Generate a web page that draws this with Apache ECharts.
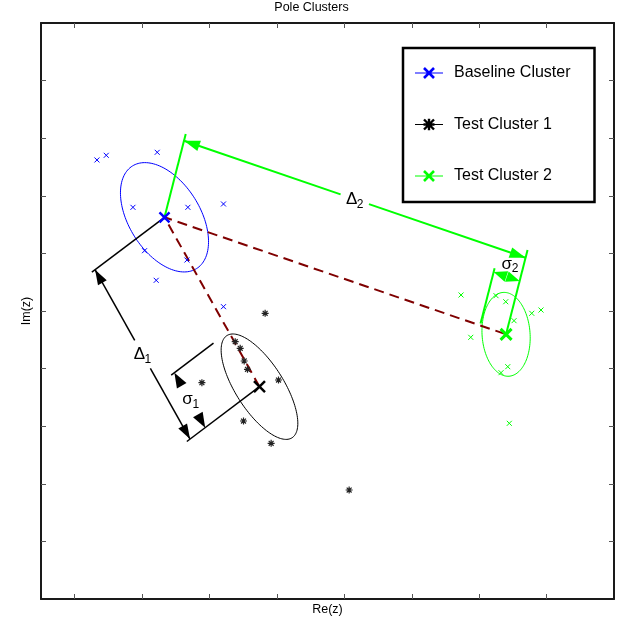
<!DOCTYPE html>
<html><head><meta charset="utf-8">
<script src="https://cdn.jsdelivr.net/npm/echarts@6/dist/echarts.min.js"></script>
<style>html,body{margin:0;padding:0;background:#fff}#c{width:623px;height:630px}</style>
</head><body><div id="c"></div>
<script>
// ---------------- data ----------------
const xTicks = [0, 1, 2, 3, 4, 5, 6, 7];
const yTicks = [1, 2, 3, 4, 5, 6, 7, 8, 9];
const clusterNames = ['Baseline Cluster', 'Test Cluster 1', 'Test Cluster 2'];
const baselinePoints = [[0.330,7.622],[0.468,7.703],[1.224,7.755],[0.864,6.800],[1.679,6.800],[2.207,6.858],[1.036,6.047],[1.665,5.885],[1.209,5.533],[2.207,5.075]];
const test1Points = [[2.825,4.960],[2.381,4.467],[2.455,4.352],[2.514,4.132],[2.563,3.988],[3.023,3.802],[1.887,3.755],[2.504,3.090],[2.914,2.703],[4.071,1.892]];
const test2Points = [[5.731,5.278],[6.250,5.266],[6.394,5.161],[6.780,4.960],[6.917,5.017],[6.517,4.832],[5.875,4.543],[6.324,3.929],[6.424,4.033],[6.447,3.050]];
const baselineCenter = [1.332, 6.627];
const test1Center = [2.741, 3.686];
const test2Center = [6.399, 4.595];

// ---------------- styling / geometry config ----------------
const FONT = 'Liberation Sans, Arial, Helvetica, sans-serif';
const BLUE = '#0000ff', GREEN = '#00ff00', BLACK = '#000000', DARKRED = '#7f0000';
const ASPECT = 1.16;
const ellipseCfg = [
  {a: 60.5, b: 35.6, theta: 58, color: BLUE},
  {a: 60.6, b: 24, theta: 57.5, color: BLACK},
  {a: 42, b: 24, theta: 86, color: GREEN}
];

function unit(v){const l=Math.hypot(v[0],v[1]);return [v[0]/l,v[1]/l];}
function makeFrame(p1,p2,side){
  const d=[p2[0]-p1[0],p2[1]-p1[1]];
  const e=unit(d);
  const ep=unit([d[0],d[1]/ASPECT]);
  const n=unit(side>0?[-ep[1],ep[0]*ASPECT]:[ep[1],-ep[0]*ASPECT]);
  return {e:e,n:n,len:Math.hypot(d[0],d[1])};
}
function at(base,f,s,t){return [base[0]+s*f.e[0]+t*f.n[0], base[1]+s*f.e[1]+t*f.n[1]];}
function seg(a,b,color,w){return {type:'line',shape:{x1:a[0],y1:a[1],x2:b[0],y2:b[1]},style:{stroke:color,lineWidth:w}};}
function head(tip,dir,len,hw,color){
  const b=[tip[0]-dir[0]*len,tip[1]-dir[1]*len]; const p=[-dir[1],dir[0]];
  return {type:'polygon',shape:{points:[tip,[b[0]+p[0]*hw,b[1]+p[1]*hw],[b[0]-p[0]*hw,b[1]-p[1]*hw]]},style:{fill:color}};
}
function subLabel(c,main,sub,size){
  return {type:'group',children:[
    {type:'text',x:c[0]-3,y:c[1],style:{text:main,font:size+'px '+FONT,fill:'#000',align:'center',verticalAlign:'middle'}},
    {type:'text',x:c[0]+2,y:c[1]+5,style:{text:sub,font:Math.round(size*0.72)+'px '+FONT,fill:'#000',align:'left',verticalAlign:'middle'}}
  ]};
}
// dimension annotations
const dimCfg = {
  delta1: {side:1, color:BLACK, lw:1.5, extA:[0,91], extB:[0,91], line:87, gap:16, head:[15,5], label:['Δ','1']},
  delta2: {side:-1, color:GREEN, lw:2, extA:[0,86], extB:[0,87], line:79, gap:15, head:[16,5.5], label:['Δ','2']},
  sigma1: {side:1, color:BLACK, lw:1.5, sigma:63, extA:[19,72], line:68, head:[15,5.5], labelT:67, label:['σ','1']},
  sigma2: {side:-1, color:GREEN, lw:2, sigma:27.5, extA:[2,59], line:55, head:[13.5,5.5], labelT:68, label:['σ','2']}
};
function renderDelta(cfg){
  return function(params,api){
    const p1=api.coord([api.value(0),api.value(1)]), p2=api.coord([api.value(2),api.value(3)]);
    const f=makeFrame(p1,p2,cfg.side), L=f.len, c=cfg.color;
    const a=at(p1,f,0,cfg.line), b=at(p2,f,0,cfg.line);
    return {type:'group',children:[
      seg(at(p1,f,0,cfg.extA[0]),at(p1,f,0,cfg.extA[1]),c,cfg.lw),
      seg(at(p2,f,0,cfg.extB[0]),at(p2,f,0,cfg.extB[1]),c,cfg.lw),
      seg(a,at(p1,f,L/2-cfg.gap,cfg.line),c,cfg.lw),
      seg(at(p1,f,L/2+cfg.gap,cfg.line),b,c,cfg.lw),
      head(a,[-f.e[0],-f.e[1]],cfg.head[0],cfg.head[1],c),
      head(b,f.e,cfg.head[0],cfg.head[1],c),
      subLabel(at(p1,f,L/2,cfg.line),cfg.label[0],cfg.label[1],17)
    ]};
  };
}
function renderSigma(cfg){
  return function(params,api){
    const p1=api.coord([api.value(0),api.value(1)]), p2=api.coord([api.value(2),api.value(3)]);
    const f=makeFrame(p1,p2,cfg.side), c=cfg.color, s=cfg.sigma;
    const a=at(p2,f,-s,cfg.line), b=at(p2,f,0,cfg.line);
    return {type:'group',children:[
      seg(at(p2,f,-s,cfg.extA[0]),at(p2,f,-s,cfg.extA[1]),c,cfg.lw),
      head(a,[-f.e[0],-f.e[1]],cfg.head[0],cfg.head[1],c),
      head(b,f.e,cfg.head[0],cfg.head[1],c),
      subLabel(at(p2,f,-s/2,cfg.labelT),cfg.label[0],cfg.label[1],17)
    ]};
  };
}
function renderEllipse(cfg){
  return function(params,api){
    const c=api.coord([api.value(0),api.value(1)]);
    const th=cfg.theta*Math.PI/180, pts=[];
    for(let i=0;i<=144;i++){
      const t=i/144*2*Math.PI, x=cfg.a*Math.cos(t), y=cfg.b*Math.sin(t);
      pts.push([c[0]+x*Math.cos(th)-y*Math.sin(th), c[1]+x*Math.sin(th)+y*Math.cos(th)]);
    }
    return {type:'polyline',shape:{points:pts},style:{fill:null,stroke:cfg.color,lineWidth:1}};
  };
}
// legend icons (filled polygons: a thin line + a bold marker)
function barPath(P,Q,w){
  const dx=Q[0]-P[0], dy=Q[1]-P[1], L=Math.hypot(dx,dy), k=w/2/L, n=[-dy*k,dx*k];
  const f=v=>v[0].toFixed(2)+','+v[1].toFixed(2);
  return 'M'+f([P[0]+n[0],P[1]+n[1]])+'L'+f([Q[0]+n[0],Q[1]+n[1]])+'L'+f([Q[0]-n[0],Q[1]-n[1]])+'L'+f([P[0]-n[0],P[1]-n[1]])+'Z';
}
const iconLine = barPath([0,6],[28,6],1.2);
const iconX = 'path://'+iconLine+barPath([9,1],[19,11],2.6)+barPath([19,1],[9,11],2.6);
const iconStar = 'path://'+iconLine+barPath([9,1],[19,11],2.4)+barPath([19,1],[9,11],2.4)+barPath([14,0.3],[14,11.7],2.4)+barPath([8.5,6],[19.5,6],2.4);

const SYM_X = 'path://M0,0L10,10M10,0L0,10';
const SYM_STAR = 'path://M0,5L10,5M5,0L5,10M1.5,1.5L8.5,8.5M8.5,1.5L1.5,8.5';

function axisBase(extra){
  return Object.assign({
    type:'value',
    axisLine:{show:true,onZero:false,lineStyle:{color:'#1a1a1a',width:2}},
    axisLabel:{show:false},
    splitLine:{show:false},
    silent:true
  },extra);
}
const xCommon = {min:-0.5,max:8,axisTick:{show:true,inside:true,length:5,customValues:xTicks,lineStyle:{color:'#555',width:1}}};
const yCommon = {min:0,max:10,axisTick:{show:true,inside:true,length:5,customValues:yTicks,lineStyle:{color:'#555',width:1}}};

const pair = (a,b)=>[[a[0],a[1],b[0],b[1]]];

const chart = echarts.init(document.getElementById('c'));
chart.setOption({
  animation:false,
  backgroundColor:'#fff',
  title:{text:'Pole Clusters',left:'center',top:0,padding:[1,0,0,0],textStyle:{fontFamily:FONT,fontSize:12.5,fontWeight:'normal',color:'#000'}},
  grid:{left:41,top:23,right:9,bottom:31,containLabel:false},
  xAxis:[
    axisBase(Object.assign({position:'bottom',name:'Re(z)',nameLocation:'middle',nameGap:4,nameTextStyle:{fontFamily:FONT,fontSize:12.5,color:'#000'}},xCommon)),
    axisBase(Object.assign({position:'top'},xCommon))
  ],
  yAxis:[
    axisBase(Object.assign({position:'left',name:'Im(z)',nameLocation:'middle',nameGap:8,nameTextStyle:{fontFamily:FONT,fontSize:12.5,color:'#000'}},yCommon)),
    axisBase(Object.assign({position:'right'},yCommon))
  ],
  legend:{
    show:true, orient:'vertical', left:403, top:48,
    padding:[15,24,16,12], itemGap:31.5, itemWidth:28, itemHeight:12,
    borderColor:'#000', borderWidth:2.5, backgroundColor:'#fff',
    selectedMode:false,
    textStyle:{fontFamily:FONT,fontSize:16,color:'#000',lineHeight:20,padding:[0,0,0,6]},
    data:[
      {name:clusterNames[0],icon:iconX,itemStyle:{color:BLUE,borderWidth:0}},
      {name:clusterNames[1],icon:iconStar,itemStyle:{color:BLACK,borderWidth:0}},
      {name:clusterNames[2],icon:iconX,itemStyle:{color:GREEN,borderWidth:0}}
    ]
  },
  series:[
    {type:'custom',name:'e0',silent:true,z:2,renderItem:renderEllipse(ellipseCfg[0]),data:[baselineCenter]},
    {type:'custom',name:'e1',silent:true,z:2,renderItem:renderEllipse(ellipseCfg[1]),data:[test1Center]},
    {type:'custom',name:'e2',silent:true,z:2,renderItem:renderEllipse(ellipseCfg[2]),data:[test2Center]},
    {type:'line',name:'link',silent:true,z:3,symbol:'none',data:[test1Center,baselineCenter,test2Center],
      lineStyle:{color:DARKRED,width:2,type:[10,6]}},
    {type:'scatter',name:'bpts',silent:true,z:4,symbol:SYM_X,symbolSize:5,data:baselinePoints,
      itemStyle:{color:'transparent',borderColor:BLUE,borderWidth:1,opacity:1}},
    {type:'scatter',name:'t1pts',silent:true,z:4,symbol:SYM_STAR,symbolSize:7,data:test1Points,
      itemStyle:{color:'transparent',borderColor:'#222',borderWidth:1.2,opacity:1}},
    {type:'scatter',name:'t2pts',silent:true,z:4,symbol:SYM_X,symbolSize:5,data:test2Points,
      itemStyle:{color:'transparent',borderColor:GREEN,borderWidth:1,opacity:1}},
    {type:'custom',name:'d1',silent:true,z:5,renderItem:renderDelta(dimCfg.delta1),encode:{x:[0,2],y:[1,3]},data:pair(baselineCenter,test1Center)},
    {type:'custom',name:'d2',silent:true,z:5,renderItem:renderDelta(dimCfg.delta2),encode:{x:[0,2],y:[1,3]},data:pair(baselineCenter,test2Center)},
    {type:'custom',name:'s1',silent:true,z:5,renderItem:renderSigma(dimCfg.sigma1),encode:{x:[0,2],y:[1,3]},data:pair(baselineCenter,test1Center)},
    {type:'custom',name:'s2',silent:true,z:5,renderItem:renderSigma(dimCfg.sigma2),encode:{x:[0,2],y:[1,3]},data:pair(baselineCenter,test2Center)},
    {type:'scatter',name:clusterNames[0],silent:true,z:6,symbol:SYM_X,symbolSize:10,data:[baselineCenter],
      itemStyle:{color:'transparent',borderColor:BLUE,borderWidth:2.5,opacity:1}},
    {type:'scatter',name:clusterNames[1],silent:true,z:6,symbol:SYM_X,symbolSize:11,data:[test1Center],
      itemStyle:{color:'transparent',borderColor:BLACK,borderWidth:2.5,opacity:1}},
    {type:'scatter',name:clusterNames[2],silent:true,z:6,symbol:SYM_X,symbolSize:11,data:[test2Center],
      itemStyle:{color:'transparent',borderColor:GREEN,borderWidth:3,opacity:1}}
  ]
});
</script>
</body></html>
